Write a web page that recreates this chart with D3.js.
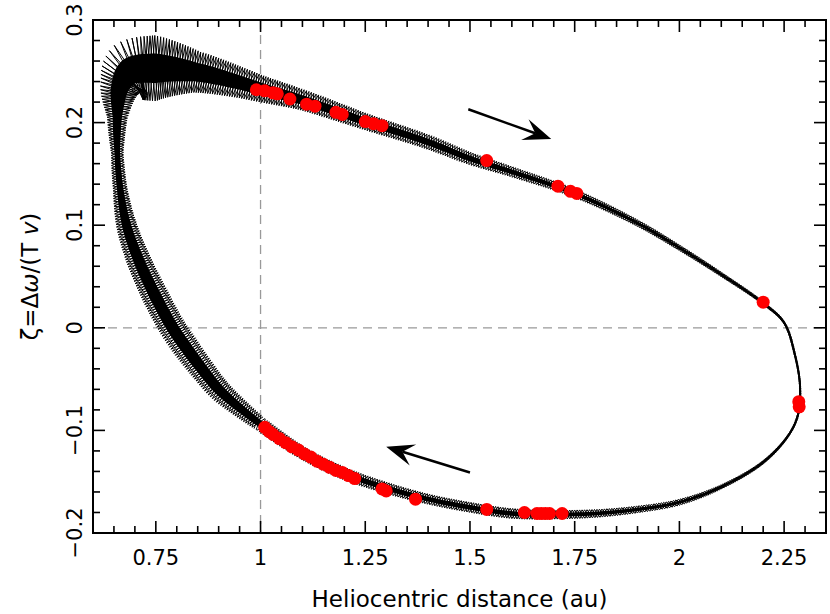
<!DOCTYPE html>
<html><head><meta charset="utf-8">
<script src="https://cdn.jsdelivr.net/npm/d3@7"></script>
<style>body{margin:0;background:#fff}svg{display:block}</style>
</head><body>
<svg id="c" width="830" height="614"></svg>
<script>
// Centerline of the trajectory (heliocentric distance, zeta) and half-width of the oscillation band (zeta units)
const pathX = [1.00,0.95,0.90,0.86,0.82,0.79,0.75,0.71,0.68,0.665,0.658,0.658,0.665,0.69,0.75,0.85,0.95,1.00,1.10,1.25,1.40,1.50,1.60,1.75,1.90,2.00,2.10,2.20,2.25,2.275,2.288,2.283,2.26,2.20,2.10,2.00,1.90,1.80,1.70,1.60,1.50,1.40,1.30,1.20,1.10,1.00];
const pathY = [-0.094,-0.078,-0.060,-0.040,-0.018,0.0,0.03,0.065,0.10,0.135,0.17,0.205,0.235,0.250,0.253,0.249,0.239,0.233,0.222,0.201,0.181,0.165,0.152,0.131,0.102,0.078,0.052,0.024,0.005,-0.025,-0.057,-0.085,-0.105,-0.131,-0.155,-0.170,-0.177,-0.181,-0.182,-0.181,-0.175,-0.167,-0.156,-0.142,-0.122,-0.094];
const bandHalf = [0.007,0.009,0.011,0.012,0.013,0.013,0.013,0.012,0.010,0.007,0.006,0.010,0.020,0.030,0.032,0.020,0.015,0.013,0.010,0.008,0.007,0.006,0.005,0.004,0.003,0.0025,0.002,0.0015,0.001,0.0008,0.0006,0.0008,0.001,0.0015,0.002,0.003,0.0035,0.004,0.0045,0.005,0.005,0.005,0.0055,0.006,0.006,0.007];
// Observations (red)
const obsX = [0.99,1.01,1.03,1.04,1.07,1.11,1.13,1.18,1.195,1.25,1.27,1.29,1.54,1.71,1.74,1.755,2.20,2.285,2.286,
  1.01,1.02,1.03,1.045,1.06,1.075,1.09,1.105,1.12,1.135,1.15,1.165,1.18,1.195,1.21,1.225,1.29,1.30,1.37,1.54,1.63,1.66,1.67,1.68,1.69,1.72];
const obsY = [0.232,0.231,0.229,0.228,0.223,0.218,0.216,0.210,0.208,0.201,0.199,0.197,0.163,0.138,0.133,0.131,0.025,-0.072,-0.077,
  -0.097,-0.101,-0.104,-0.108,-0.112,-0.116,-0.119,-0.123,-0.126,-0.130,-0.133,-0.136,-0.139,-0.141,-0.144,-0.147,-0.157,-0.159,-0.167,-0.177,-0.180,-0.181,-0.181,-0.181,-0.181,-0.181];
// Direction arrows [x0,y0,x1,y1]
const arrows = [[1.496,0.213,1.694,0.184],[1.50,-0.141,1.30,-0.116]];
const xMajor = [0.75,1,1.25,1.5,1.75,2,2.25];
const xMajorLabels = ["0.75","1","1.25","1.5","1.75","2","2.25"];
const yMajor = [-0.2,-0.1,0,0.1,0.2,0.3];
const yMajorLabels = ["\u22120.2","\u22120.1","0","0.1","0.2","0.3"];

const L=93,R=826,T=20,B=533;
const x=d3.scaleLinear().domain([0.6,2.35]).range([L,R]);
const y=d3.scaleLinear().domain([-0.2,0.3]).range([B,T]);
const svg=d3.select("#c");
const font="'DejaVu Sans', sans-serif";

svg.append("line").attr("x1",x(1)).attr("x2",x(1)).attr("y1",T).attr("y2",B).attr("stroke","#999").attr("stroke-width",1.3).attr("stroke-dasharray","9,6");
svg.append("line").attr("x1",L).attr("x2",R).attr("y1",y(0)).attr("y2",y(0)).attr("stroke","#999").attr("stroke-width",1.3).attr("stroke-dasharray","9,6");

const pts=pathX.map((v,i)=>[x(v),y(pathY[i]),(y(0)-y(bandHalf[i]))]);
const tmp=svg.append("path").attr("d",d3.line().curve(d3.curveCatmullRom.alpha(0.5))(pts.map(p=>[p[0],p[1]]))).attr("fill","none");
const node=tmp.node(), len=node.getTotalLength();
const cum=[0];for(let i=1;i<pts.length;i++)cum.push(cum[i-1]+Math.hypot(pts[i][0]-pts[i-1][0],pts[i][1]-pts[i-1][1]));
const hAt=t=>{const s=t/len*cum[cum.length-1];let i=1;while(i<cum.length-1&&cum[i]<s)i++;const f=(s-cum[i-1])/(cum[i]-cum[i-1]||1);return pts[i-1][2]*(1-f)+pts[i][2]*f;};
const step=1.25, samples=[];
for(let t=0;t<=len;t+=step){const p=node.getPointAtLength(t),q=node.getPointAtLength(Math.min(len,t+2)),p0=node.getPointAtLength(Math.max(0,t-2));
  let dx=q.x-p0.x,dy=q.y-p0.y,n=Math.hypot(dx,dy)||1;samples.push({x:p.x,y:p.y,nx:-dy/n,ny:dx/n,h:hAt(t)});}
tmp.remove();
const inner=samples.map(s=>[s.x+s.nx*s.h*0.45,s.y+s.ny*s.h*0.45]).concat(samples.slice().reverse().map(s=>[s.x-s.nx*s.h*0.45,s.y-s.ny*s.h*0.45]));
svg.append("path").attr("d",d3.line()(inner)+"Z").attr("fill","#000");
const period=8;
for(let k=0;k<period;k+=2){
  const zz=[];samples.forEach((s,i)=>{const r=(i+k)%period;if(r===0||r===period/2){const sg=r===0?1:-1;zz.push([s.x+s.nx*s.h*sg,s.y+s.ny*s.h*sg]);}});
  svg.append("path").attr("d",d3.line()(zz)).attr("fill","none").attr("stroke","#000").attr("stroke-width",1);
}
svg.append("path").attr("d",d3.line()(samples.map(s=>[s.x,s.y]))).attr("fill","none").attr("stroke","#000").attr("stroke-width",2);

svg.selectAll("circle.o").data(obsX).join("circle").attr("cx",d=>x(d)).attr("cy",(d,i)=>y(obsY[i])).attr("r",6.5).attr("fill","#ff0000");

arrows.forEach(a=>{
  const x0=x(a[0]),y0=y(a[1]),x1=x(a[2]),y1=y(a[3]);const ang=Math.atan2(y1-y0,x1-x0);
  const hl=28,hw=11,notch=17;
  const bx=x1-Math.cos(ang)*notch,by=y1-Math.sin(ang)*notch;
  svg.append("line").attr("x1",x0).attr("y1",y0).attr("x2",bx).attr("y2",by).attr("stroke","#000").attr("stroke-width",2.5);
  const c=Math.cos(ang),s=Math.sin(ang);
  const p1=[x1-c*hl-s*hw,y1-s*hl+c*hw],p2=[x1-c*hl+s*hw,y1-s*hl-c*hw];
  svg.append("path").attr("d",`M${x1},${y1}L${p1[0]},${p1[1]}L${bx},${by}L${p2[0]},${p2[1]}Z`).attr("fill","#000");
});

svg.append("rect").attr("x",L).attr("y",T).attr("width",R-L).attr("height",B-T).attr("fill","none").attr("stroke","#000").attr("stroke-width",2);
const tk=svg.append("g").attr("stroke","#000").attr("stroke-width",1.6);
d3.range(0.65,2.35,0.05).forEach(v=>{const maj=xMajor.some(m=>Math.abs(m-v)<1e-6);const l=maj?12:7;const X=x(v);
  tk.append("line").attr("x1",X).attr("x2",X).attr("y1",B).attr("y2",B-l);tk.append("line").attr("x1",X).attr("x2",X).attr("y1",T).attr("y2",T+l);});
d3.range(-0.18,0.3,0.02).forEach(v=>{const maj=yMajor.some(m=>Math.abs(m-v)<1e-6);const l=maj?12:7;const Y=y(v);
  tk.append("line").attr("x1",L).attr("x2",L+l).attr("y1",Y).attr("y2",Y);tk.append("line").attr("x1",R).attr("x2",R-l).attr("y1",Y).attr("y2",Y);});
svg.selectAll("text.xl").data(xMajor).join("text").attr("x",d=>x(d)).attr("y",565).attr("text-anchor","middle").attr("font-family",font).attr("font-size",21).text((d,i)=>xMajorLabels[i]);
svg.selectAll("text.yl").data(yMajor).join("text").attr("transform",d=>`translate(82,${y(d)}) rotate(-90)`).attr("text-anchor","middle").attr("font-family",font).attr("font-size",21).text((d,i)=>yMajorLabels[i]);
svg.append("text").attr("x",x(1.475)).attr("y",607).attr("text-anchor","middle").attr("font-family",font).attr("font-size",23).text("Heliocentric distance (au)");
const yt=svg.append("text").attr("transform",`translate(38,${y(0.05)}) rotate(-90)`).attr("text-anchor","middle").attr("font-family",font).attr("font-size",23);
yt.append("tspan").text("\u03B6=\u0394");yt.append("tspan").attr("font-style","italic").text("\u03C9");yt.append("tspan").text("/(T ");yt.append("tspan").attr("font-style","italic").text("v");yt.append("tspan").text(")");
</script>
</body></html>
